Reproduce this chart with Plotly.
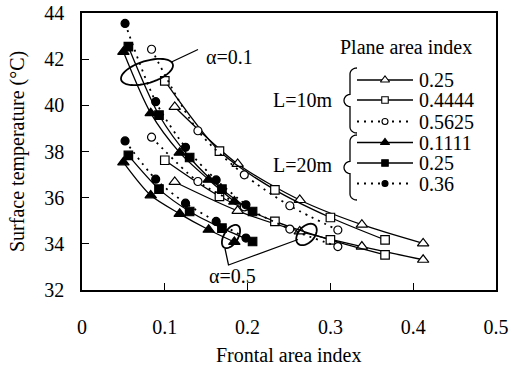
import math
import plotly.graph_objects as go

# ---------------- data ----------------
# L=10m, plane area index 0.25 (open triangles)
tri10_x = [0.112, 0.188, 0.263, 0.338, 0.412]
tri10_a = [39.93, 37.46, 35.90, 34.83, 34.02]
tri10_b = [36.68, 35.43, 34.54, 33.88, 33.31]
# L=10m, 0.4444 (open squares)
sq10_x = [0.100, 0.166, 0.233, 0.300, 0.366]
sq10_a = [41.06, 38.02, 36.34, 35.14, 34.17]
sq10_b = [37.62, 36.06, 34.97, 34.17, 33.52]
# L=10m, 0.5625 (open circles)
ci10_x = [0.084, 0.140, 0.196, 0.251, 0.309]
ci10_a = [42.43, 38.90, 36.99, 35.65, 34.60]
ci10_b = [38.62, 36.70, 35.60, 34.64, 33.88]
# L=20m, 0.1111 (filled triangles)
tri20_x = [0.050, 0.083, 0.118, 0.153, 0.184]
tri20_a = [42.32, 39.66, 37.95, 36.78, 35.83]
tri20_b = [37.53, 36.10, 35.30, 34.61, 34.08]
# L=20m, 0.25 (filled squares)
sq20_x = [0.056, 0.093, 0.130, 0.169, 0.206]
sq20_a = [42.54, 39.58, 37.74, 36.37, 35.40]
sq20_b = [37.83, 36.37, 35.40, 34.68, 34.10]
# L=20m, 0.36 (filled circles)
ci20_x = [0.052, 0.089, 0.125, 0.162, 0.198]
ci20_a = [43.55, 40.16, 38.18, 36.77, 35.69]
ci20_b = [38.46, 36.80, 35.76, 34.97, 34.25]

legend_labels = ["0.25", "0.4444", "0.5625", "0.1111", "0.25", "0.36"]
group_labels = ["L=10m", "L=20m"]
x_ticks = [0, 0.1, 0.2, 0.3, 0.4, 0.5]
y_ticks = [32, 34, 36, 38, 40, 42, 44]

FONT = "Liberation Serif"
FS = 20

series = [
    (tri10_x, tri10_a, tri10_b, "triangle-up", "white", "solid"),
    (sq10_x, sq10_a, sq10_b, "square", "white", "solid"),
    (ci10_x, ci10_a, ci10_b, "circle", "white", "dot"),
    (tri20_x, tri20_a, tri20_b, "triangle-up", "black", "solid"),
    (sq20_x, sq20_a, sq20_b, "square", "black", "solid"),
    (ci20_x, ci20_a, ci20_b, "circle", "black", "dot"),
]
msize = {"triangle-up": 10, "square": 8.5, "circle": 8}
DOT = "2px,5px"

fig = go.Figure()
for xs, ya, yb, sym, fill, dash in series:
    for ys in (ya, yb):
        fig.add_trace(go.Scatter(
            x=xs, y=ys, mode="lines+markers",
            line=dict(color="black", width=1.3 if dash == "solid" else 1.8,
                      dash=DOT if dash == "dot" else "solid",
                      shape="spline", smoothing=0.8),
            marker=dict(symbol=sym, size=msize[sym], color=fill,
                        line=dict(color="black", width=1.2)),
            showlegend=False, hoverinfo="skip"))

# ---------------- pixel -> paper helpers (layout only) ----------------
L, R, T, B = 82, 496, 13, 290
def px(x):
    return (x - L) / (R - L)
def py(y):
    return (B - y) / (B - T)

# custom legend on an overlay axis in paper-like units
row_y = [80, 100, 121.5, 142.5, 163, 183.5]
for i, (xs, ya, yb, sym, fill, dash) in enumerate(series):
    yy = py(row_y[i])
    fig.add_trace(go.Scatter(
        x=[px(357), px(413)], y=[yy, yy], mode="lines",
        line=dict(color="black", width=1.3 if dash == "solid" else 1.8,
                  dash=DOT if dash == "dot" else "solid"),
        xaxis="x2", yaxis="y2", showlegend=False, hoverinfo="skip"))
    fig.add_trace(go.Scatter(
        x=[px(385)], y=[yy], mode="markers",
        marker=dict(symbol=sym, size=msize[sym] - 2, color=fill,
                    line=dict(color="black", width=1.1)),
        xaxis="x2", yaxis="y2", showlegend=False, hoverinfo="skip"))

tf = dict(family=FONT, size=FS, color="black")
annotations = []
for i, lab in enumerate(legend_labels):
    annotations.append(dict(x=px(417), y=py(row_y[i]), xref="paper", yref="paper",
                            text=lab, showarrow=False, xanchor="left", yanchor="middle",
                            font=tf))
annotations.append(dict(x=px(406), y=py(47), xref="paper", yref="paper",
                        text="Plane area index", showarrow=False,
                        xanchor="center", yanchor="middle", font=tf))
for lab, yc in zip(group_labels, [100, 165]):
    annotations.append(dict(x=px(334), y=py(yc), xref="paper", yref="paper",
                            text=lab, showarrow=False, xanchor="right", yanchor="middle",
                            font=tf))
annotations.append(dict(x=px(204), y=py(57), xref="paper", yref="paper",
                        text="α=0.1", showarrow=False, xanchor="left", yanchor="middle",
                        font=tf))
annotations.append(dict(x=px(232), y=py(276), xref="paper", yref="paper",
                        text="α=0.5", showarrow=False, xanchor="center", yanchor="middle",
                        font=tf))
# axis titles
annotations.append(dict(x=px(289), y=py(355), xref="paper", yref="paper",
                        text="Frontal area index", showarrow=False,
                        xanchor="center", yanchor="middle", font=tf))
annotations.append(dict(x=px(17), y=py(152), xref="paper", yref="paper",
                        text="Surface temperature (°C)", showarrow=False, textangle=-90,
                        xanchor="center", yanchor="middle", font=tf))

# ---------------- shapes: braces, ellipses, leader lines ----------------
def P(pts):
    return " ".join(("M" if k == 0 else "L") + f" {px(x):.5f},{py(y):.5f}"
                    for k, (x, y) in enumerate(pts))

def brace(x_stem, y0, y1, tip_dx=6, curl=7):
    ym = (y0 + y1) / 2
    pts = []
    for t in [i / 8 for i in range(9)]:
        a = math.pi / 2 * t
        pts.append((x_stem + curl - curl * math.sin(a), y0 + 6 * (1 - math.cos(a))))
    pts.append((x_stem, ym - 6))
    for t in [i / 6 for i in range(1, 7)]:
        a = math.pi / 2 * t
        pts.append((x_stem - tip_dx * math.sin(a), ym - 6 * math.cos(a)))
    for t in [i / 6 for i in range(1, 7)]:
        a = math.pi / 2 * t
        pts.append((x_stem - tip_dx * math.cos(a), ym + 6 * math.sin(a)))
    pts.append((x_stem, y1 - 6))
    for t in [i / 8 for i in range(1, 9)]:
        a = math.pi / 2 * t
        pts.append((x_stem + curl * (1 - math.cos(a)), y1 - 6 + 6 * math.sin(a)))
    return pts

def ellipse(cx, cy, a, b, ang):
    th = math.radians(ang)
    pts = []
    for k in range(49):
        t = 2 * math.pi * k / 48
        ex, ey = a * math.cos(t), b * math.sin(t)
        pts.append((cx + ex * math.cos(th) - ey * math.sin(th),
                    cy + ex * math.sin(th) + ey * math.cos(th)))
    return pts

shapes = []
line_style = dict(color="black", width=1.3)
for y0, y1 in [(68, 133), (135, 200)]:
    shapes.append(dict(type="path", xref="paper", yref="paper",
                       path=P(brace(350, y0, y1)), line=line_style))
for cx, cy, a, b, ang in [(147, 72, 27, 11, -17), (231, 236.5, 13, 7, -58),
                          (306.5, 234.5, 12.5, 8, -48)]:
    shapes.append(dict(type="path", xref="paper", yref="paper",
                       path=P(ellipse(cx, cy, a, b, ang)),
                       line=dict(color="black", width=1.8)))
shapes.append(dict(type="path", xref="paper", yref="paper",
                   path=P([(171.5, 62), (198, 49.5)]), line=line_style))
shapes.append(dict(type="path", xref="paper", yref="paper",
                   path=P([(225, 248.5), (228.5, 265), (298, 239.5)]), line=line_style))

fig.update_layout(
    width=517, height=370,
    margin=dict(l=L, r=517 - R, t=T, b=370 - B, pad=0, autoexpand=False),
    paper_bgcolor="white", plot_bgcolor="white",
    font=tf,
    xaxis=dict(range=[0, 0.5], tickvals=x_ticks, ticktext=[f"{v:g}" for v in x_ticks],
               ticks="inside", ticklen=7, tickwidth=1.2, tickcolor="black",
               showline=True, linecolor="black", linewidth=1.6, mirror=True,
               showgrid=False, zeroline=False, ticklabelstandoff=18, automargin=False,
               tickfont=tf),
    yaxis=dict(range=[32, 44], tickvals=y_ticks,
               ticks="inside", ticklen=7, tickwidth=1.2, tickcolor="black",
               showline=True, linecolor="black", linewidth=1.6, mirror=True,
               showgrid=False, zeroline=False, ticklabelstandoff=12, automargin=False,
               tickfont=tf),
    xaxis2=dict(range=[0, 1], overlaying="x", visible=False, anchor="y2", automargin=False),
    yaxis2=dict(range=[0, 1], overlaying="y", visible=False, anchor="x2", automargin=False),
    annotations=annotations, shapes=shapes,
)

fig.write_html("out.html", config={"displayModeBar": False},
               post_script="document.body.style.margin='0';document.body.style.overflow='hidden';")
